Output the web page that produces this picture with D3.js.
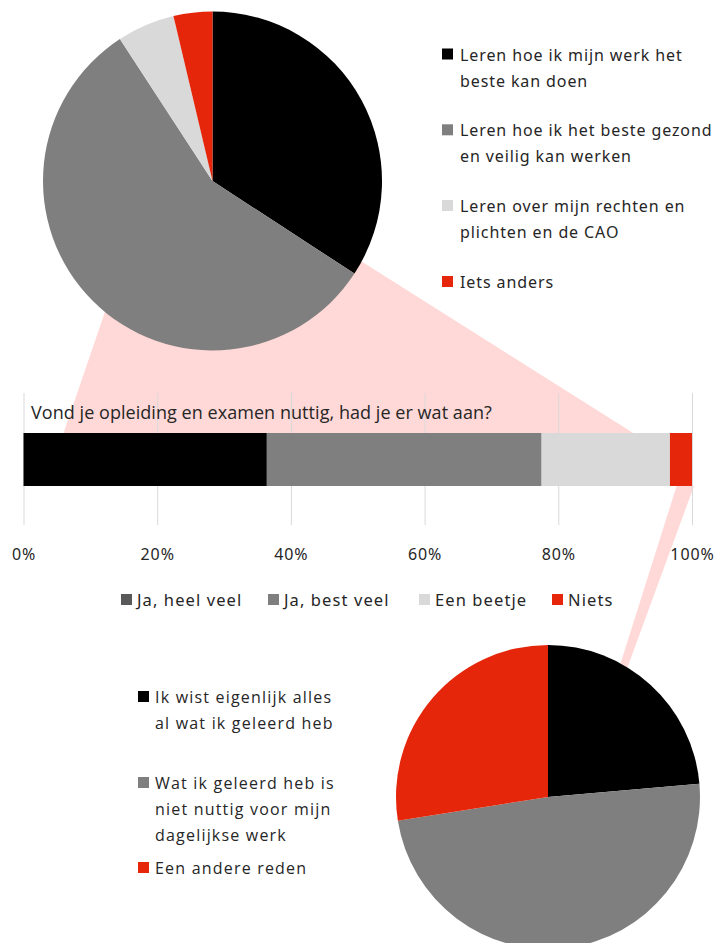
<!DOCTYPE html>
<html>
<head>
<meta charset="utf-8">
<script src="https://cdn.jsdelivr.net/npm/d3@7"></script>
<style>
  html, body { margin: 0; padding: 0; background: #fff; }
  svg { display: block; }
</style>
</head>
<body>
<svg id="chart" width="716" height="943"></svg>
<script>
// What respondents learned (top pie)
const learnLabels = [
  ["Leren hoe ik mijn werk het", "beste kan doen"],
  ["Leren hoe ik het beste gezond", "en veilig kan werken"],
  ["Leren over mijn rechten en", "plichten en de CAO"],
  ["Iets anders"]
];
const learnValues = [34.2, 56.6, 5.5, 3.7];

// Was the training useful (stacked bar)
const question = "Vond je opleiding en examen nuttig, had je er wat aan?";
const usefulLabels = ["Ja, heel veel", "Ja, best veel", "Een beetje", "Niets"];
const usefulValues = [36.4, 41.1, 19.2, 3.3];
const tickValues = [0, 20, 40, 60, 80, 100];

// Why it was not useful (bottom pie)
const reasonLabels = [
  ["Ik wist eigenlijk alles", "al wat ik geleerd heb"],
  ["Wat ik geleerd heb is", "niet nuttig voor mijn", "dagelijkse werk"],
  ["Een andere reden"]
];
const reasonValues = [23.6, 48.9, 27.5];

// Styling
const BLACK = "#000000", GREY = "#7f7f7f", LIGHT = "#d9d9d9", RED = "#e5260b";
const PINK = "#ffd9d7", GRID = "#d9d9d9", INK = "#262626";
const learnColors = [BLACK, GREY, LIGHT, RED];
const barColors = [BLACK, GREY, LIGHT, RED];
const barLegendColors = ["#595959", GREY, LIGHT, RED];
const reasonColors = [BLACK, GREY, RED];

const geoFont = "'Noto Sans', sans-serif";
const humanFont = "'Open Sans', sans-serif";

const svg = d3.select("#chart");

// Layout
const topPie = { cx: 212.5, cy: 181, r: 169.5 };
const botPie = { cx: 548, cy: 797, r: 152 };
const bar = { top: 433, height: 53, gridTop: 393, gridBottom: 525 };

const x = d3.scaleLinear().domain([0, 100]).range([23.5, 692]);

const pie = d3.pie().sort(null).value(d => d);
const onCircle = (p, deg) => {
  const a = deg * Math.PI / 180;
  return [p.cx + p.r * Math.sin(a), p.cy - p.r * Math.cos(a)];
};

// Connector shapes (behind everything)
const connectors = svg.append("g");
connectors.append("polygon")
  .attr("fill", PINK)
  .attr("points", [
    onCircle(topPie, 219.4),
    onCircle(topPie, 118.4),
    [x(91.2), bar.top],
    [x(6.0), bar.top]
  ].map(p => p.join(",")).join(" "));
connectors.append("polygon")
  .attr("fill", PINK)
  .attr("points", [
    [x(97.7), bar.top + bar.height],
    [x(100.3), bar.top + bar.height],
    onCircle(botPie, 31.5),
    onCircle(botPie, 28.5)
  ].map(p => p.join(",")).join(" "));

// Axis with vertical gridlines
const axis = d3.axisBottom(x)
  .tickValues(tickValues)
  .tickFormat(d => d + "%")
  .tickSize(-(bar.gridBottom - bar.gridTop));
const axisG = svg.append("g")
  .attr("transform", `translate(0,${bar.gridBottom})`)
  .call(axis);
axisG.select(".domain").remove();
axisG.selectAll(".tick line").attr("stroke", GRID).attr("stroke-width", 1);
axisG.selectAll(".tick text")
  .attr("y", 35).attr("dy", 0)
  .attr("fill", INK)
  .style("font-family", geoFont)
  .style("font-size", "16px")
  .style("letter-spacing", "0.9px");
axisG.attr("font-family", null).attr("font-size", null);

// Question title
svg.append("text")
  .attr("x", 31).attr("y", 419)
  .attr("fill", INK)
  .style("font-family", humanFont)
  .style("font-size", "18px")
  .style("letter-spacing", "0.05px")
  .text(question);

// Stacked bar
const stacked = [];
usefulValues.reduce((acc, v, i) => { stacked.push({ x0: acc, x1: acc + v, i }); return acc + v; }, 0);
svg.append("g").selectAll("rect")
  .data(stacked)
  .join("rect")
  .attr("x", d => x(d.x0))
  .attr("width", d => x(d.x1) - x(d.x0))
  .attr("y", bar.top)
  .attr("height", bar.height)
  .attr("fill", d => barColors[d.i]);

// Bar legend
const barLegendX = [121, 268, 419, 552];
const barLegend = svg.append("g");
usefulLabels.forEach((lab, i) => {
  barLegend.append("rect")
    .attr("x", barLegendX[i]).attr("y", 594)
    .attr("width", 11).attr("height", 11)
    .attr("fill", barLegendColors[i]);
  barLegend.append("text")
    .attr("x", barLegendX[i] + 16).attr("y", 605.5)
    .attr("fill", INK)
    .style("font-family", geoFont)
    .style("font-size", "16.5px")
    .style("letter-spacing", "1.1px")
    .text(lab);
});

// Pie drawing
const arc = r => d3.arc().innerRadius(0).outerRadius(r);
function drawPie(p, values, colors) {
  svg.append("g")
    .attr("transform", `translate(${p.cx},${p.cy})`)
    .selectAll("path")
    .data(pie(values))
    .join("path")
    .attr("d", arc(p.r))
    .attr("fill", (d, i) => colors[i]);
}
drawPie(topPie, learnValues, learnColors);
drawPie(botPie, reasonValues, reasonColors);

// Legend with wrapped labels
function drawLegend(items, colors, opts) {
  const g = svg.append("g");
  items.forEach((lines, i) => {
    const base = opts.baselines[i];
    g.append("rect")
      .attr("x", opts.x).attr("y", base - 12)
      .attr("width", 11).attr("height", 11)
      .attr("fill", colors[i]);
    const t = g.append("text")
      .attr("x", opts.x + opts.gap).attr("y", base)
      .attr("fill", INK)
      .style("font-family", opts.font)
      .style("font-size", opts.size)
      .style("letter-spacing", opts.spacing);
    lines.forEach((ln, j) => {
      t.append("tspan")
        .attr("x", opts.x + opts.gap)
        .attr("y", base + j * opts.lineHeight)
        .text(ln);
    });
  });
}
drawLegend(learnLabels, learnColors, {
  x: 442, gap: 18, baselines: [60.5, 136.3, 212, 288], lineHeight: 26,
  font: geoFont, size: "16px", spacing: "0.9px"
});
drawLegend(reasonLabels, reasonColors, {
  x: 138, gap: 17, baselines: [703, 789, 874], lineHeight: 26,
  font: humanFont, size: "16px", spacing: "1.2px"
});
</script>
</body>
</html>
